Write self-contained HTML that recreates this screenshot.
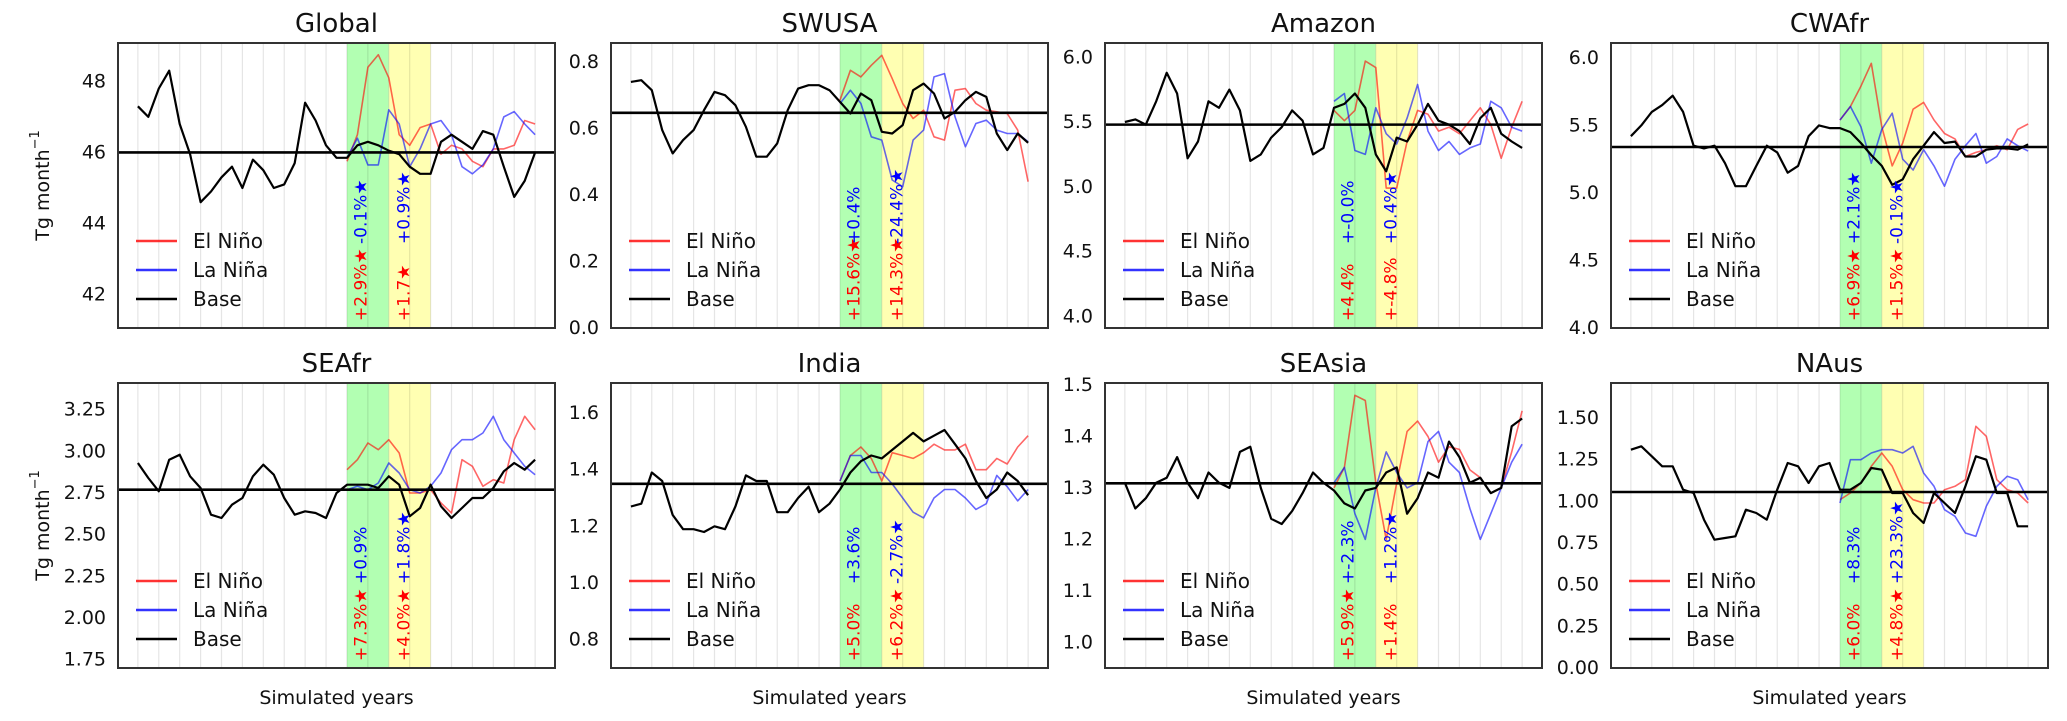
<!DOCTYPE html>
<html>
<head>
<meta charset="utf-8">
<style>
html,body{margin:0;padding:0;background:#fff;}
svg{display:block;font-family:"DejaVu Sans","Liberation Sans",sans-serif;}
</style>
</head>
<body>
<svg id="fig" width="2067" height="721" viewBox="0 0 2067 721" xmlns="http://www.w3.org/2000/svg"></svg>
<script>
// ---- data (values at half-year steps) ----
const baseYears = [0,0.5,1,1.5,2,2.5,3,3.5,4,4.5,5,5.5,6,6.5,7,7.5,8,8.5,9,9.5,10,10.5,11,11.5,12,12.5,13,13.5,14,14.5,15,15.5,16,16.5,17,17.5,18,18.5,19];
const ensoYears = [10,10.5,11,11.5,12,12.5,13,13.5,14,14.5,15,15.5,16,16.5,17,17.5,18,18.5,19];
const gridYears = [0,1,2,3,4,5,6,7,8,9,10,11,12,13,14,15,16,17,18,19];
const bandYears = [10,12,14];

const globalBase = [47.3,47.0,47.8,48.3,46.8,45.95,44.6,44.9,45.3,45.6,45.0,45.8,45.5,45.0,45.1,45.7,47.4,46.9,46.2,45.85,45.85,46.2,46.3,46.2,46.05,45.95,45.6,45.4,45.4,46.3,46.5,46.3,46.1,46.6,46.5,45.6,44.75,45.2,46.0];
const globalNino = [45.75,46.5,48.4,48.75,48.1,46.5,46.2,46.7,46.8,45.95,46.2,46.1,45.75,45.6,46.1,46.1,46.2,46.9,46.8];
const globalNina = [45.85,46.4,45.65,45.65,47.2,46.8,45.6,46.1,46.8,46.9,46.5,45.6,45.4,45.65,46.1,47.0,47.15,46.8,46.5];

const swusaBase = [0.74,0.745,0.715,0.595,0.525,0.565,0.595,0.655,0.71,0.70,0.67,0.605,0.515,0.515,0.555,0.655,0.72,0.73,0.73,0.715,0.68,0.645,0.705,0.685,0.59,0.585,0.61,0.715,0.735,0.705,0.63,0.65,0.685,0.71,0.695,0.585,0.535,0.585,0.557];
const swusaNino = [0.685,0.775,0.755,0.79,0.82,0.75,0.675,0.63,0.655,0.575,0.565,0.715,0.72,0.675,0.655,0.65,0.645,0.595,0.44];
const swusaNina = [0.675,0.715,0.675,0.575,0.565,0.445,0.425,0.565,0.595,0.755,0.765,0.635,0.545,0.615,0.625,0.595,0.585,0.585,0.56];

const amazonBase = [5.5,5.52,5.48,5.66,5.88,5.72,5.22,5.35,5.66,5.61,5.75,5.59,5.2,5.25,5.38,5.46,5.59,5.51,5.25,5.3,5.61,5.64,5.72,5.61,5.25,5.12,5.38,5.35,5.48,5.64,5.51,5.48,5.43,5.33,5.53,5.61,5.41,5.35,5.3];
const amazonNino = [5.59,5.51,5.59,5.97,5.92,4.99,4.99,5.35,5.59,5.56,5.43,5.46,5.41,5.51,5.61,5.48,5.22,5.46,5.66];
const amazonNina = [5.66,5.72,5.28,5.25,5.61,5.41,5.33,5.53,5.79,5.43,5.28,5.35,5.25,5.3,5.33,5.66,5.61,5.46,5.43];

const cwafrBase = [5.42,5.5,5.6,5.65,5.72,5.6,5.35,5.33,5.35,5.22,5.05,5.05,5.2,5.35,5.3,5.15,5.2,5.42,5.5,5.48,5.48,5.45,5.37,5.28,5.2,5.06,5.1,5.25,5.35,5.45,5.37,5.38,5.27,5.27,5.32,5.33,5.33,5.32,5.36];
const cwafrNino = [5.54,5.64,5.79,5.96,5.49,5.2,5.37,5.62,5.67,5.54,5.44,5.4,5.27,5.3,5.32,5.35,5.32,5.47,5.51];
const cwafrNina = [5.54,5.64,5.49,5.22,5.47,5.59,5.25,5.17,5.32,5.2,5.05,5.25,5.35,5.44,5.22,5.27,5.4,5.35,5.31];

const seafrBase = [2.93,2.84,2.76,2.95,2.98,2.85,2.78,2.62,2.6,2.68,2.72,2.85,2.92,2.86,2.72,2.62,2.64,2.63,2.6,2.75,2.8,2.8,2.8,2.78,2.85,2.8,2.61,2.66,2.8,2.67,2.6,2.66,2.72,2.72,2.78,2.88,2.93,2.89,2.95];
const seafrNino = [2.89,2.95,3.05,3.01,3.07,2.99,2.75,2.75,2.77,2.69,2.63,2.95,2.91,2.79,2.83,2.81,3.07,3.21,3.13];
const seafrNina = [2.77,2.79,2.77,2.81,2.93,2.87,2.77,2.75,2.79,2.87,3.01,3.07,3.07,3.11,3.21,3.07,2.99,2.91,2.86];

const indiaBase = [1.27,1.28,1.39,1.36,1.24,1.19,1.19,1.18,1.2,1.19,1.27,1.38,1.36,1.36,1.25,1.25,1.3,1.34,1.25,1.28,1.33,1.39,1.43,1.45,1.44,1.47,1.5,1.53,1.5,1.52,1.54,1.49,1.44,1.36,1.3,1.33,1.39,1.36,1.31];
const indiaNino = [1.36,1.45,1.48,1.44,1.36,1.46,1.45,1.44,1.46,1.49,1.47,1.47,1.49,1.4,1.4,1.44,1.42,1.48,1.52];
const indiaNina = [1.36,1.45,1.45,1.39,1.39,1.35,1.3,1.25,1.23,1.3,1.33,1.33,1.3,1.26,1.28,1.38,1.34,1.29,1.33];

const seasiaBase = [1.31,1.26,1.28,1.31,1.32,1.36,1.31,1.28,1.33,1.31,1.30,1.37,1.38,1.3,1.24,1.23,1.255,1.29,1.33,1.31,1.295,1.27,1.26,1.295,1.3,1.33,1.34,1.25,1.28,1.33,1.32,1.39,1.36,1.31,1.32,1.29,1.3,1.42,1.435];
const seasiaNino = [1.3,1.34,1.48,1.47,1.31,1.2,1.31,1.41,1.43,1.4,1.35,1.38,1.375,1.335,1.32,1.29,1.3,1.37,1.45];
const seasiaNina = [1.31,1.34,1.25,1.2,1.3,1.37,1.33,1.3,1.31,1.39,1.41,1.35,1.33,1.26,1.2,1.25,1.3,1.35,1.385];

const nausBase = [1.31,1.33,1.27,1.21,1.21,1.07,1.05,0.89,0.77,0.78,0.79,0.95,0.93,0.89,1.07,1.23,1.21,1.11,1.21,1.23,1.07,1.07,1.11,1.2,1.19,1.05,1.05,0.93,0.87,1.05,0.99,0.93,1.09,1.27,1.25,1.05,1.05,0.85,0.85];
const nausNino = [1.01,1.05,1.11,1.21,1.29,1.21,1.07,1.01,0.99,0.99,1.07,1.09,1.13,1.45,1.39,1.13,1.07,1.05,0.99];
const nausNina = [0.99,1.25,1.25,1.29,1.31,1.31,1.29,1.33,1.17,1.09,0.95,0.91,0.81,0.79,0.97,1.09,1.15,1.13,1.01];

const meanValues = [46.0,0.647,5.48,5.34,2.77,1.35,1.309,1.056];

const globalTicks = ['42','44','46','48'];
const swusaTicks = ['0.0','0.2','0.4','0.6','0.8'];
const amazonTicks = ['4.0','4.5','5.0','5.5','6.0'];
const cwafrTicks = ['4.0','4.5','5.0','5.5','6.0'];
const seafrTicks = ['1.75','2.00','2.25','2.50','2.75','3.00','3.25'];
const indiaTicks = ['0.8','1.0','1.2','1.4','1.6'];
const seasiaTicks = ['1.0','1.1','1.2','1.3','1.4','1.5'];
const nausTicks = ['0.00','0.25','0.50','0.75','1.00','1.25','1.50'];

const globalNotes = ['+2.9%\u2605','-0.1%\u2605','+1.7\u2605','+0.9%\u2605'];
const swusaNotes = ['+15.6%\u2605','+0.4%','+14.3%\u2605','-24.4%\u2605'];
const amazonNotes = ['+4.4%','+-0.0%','+-4.8%','+0.4%\u2605'];
const cwafrNotes = ['+6.9%\u2605','+2.1%\u2605','+1.5%\u2605','-0.1%\u2605'];
const seafrNotes = ['+7.3%\u2605','+0.9%','+4.0%\u2605','+1.8%\u2605'];
const indiaNotes = ['+5.0%','+3.6%','+6.2%\u2605','-2.7%\u2605'];
const seasiaNotes = ['+5.9%\u2605','+-2.3%','+1.4%','+1.2%\u2605'];
const nausNotes = ['+6.0%','+8.3%','+4.8%\u2605','+23.3%\u2605'];

// ---- layout ----
const panels = [
  {title:'Global', key:'global', left:118, top:43, ylim:[41.06,49.08], ticks:globalTicks, base:globalBase, nino:globalNino, nina:globalNina, notes:globalNotes, ylabel:true, xlabel:false},
  {title:'SWUSA', key:'swusa', left:611, top:43, ylim:[0.0,0.857], ticks:swusaTicks, base:swusaBase, nino:swusaNino, nina:swusaNina, notes:swusaNotes},
  {title:'Amazon', key:'amazon', left:1105, top:43, ylim:[3.91,6.11], ticks:amazonTicks, base:amazonBase, nino:amazonNino, nina:amazonNina, notes:amazonNotes},
  {title:'CWAfr', key:'cwafr', left:1611, top:43, ylim:[4.0,6.11], ticks:cwafrTicks, base:cwafrBase, nino:cwafrNino, nina:cwafrNina, notes:cwafrNotes},
  {title:'SEAfr', key:'seafr', left:118, top:383, ylim:[1.70,3.41], ticks:seafrTicks, base:seafrBase, nino:seafrNino, nina:seafrNina, notes:seafrNotes, ylabel:true, xlabel:true},
  {title:'India', key:'india', left:611, top:383, ylim:[0.70,1.706], ticks:indiaTicks, base:indiaBase, nino:indiaNino, nina:indiaNina, notes:indiaNotes, xlabel:true},
  {title:'SEAsia', key:'seasia', left:1105, top:383, ylim:[0.95,1.504], ticks:seasiaTicks, base:seasiaBase, nino:seasiaNino, nina:seasiaNina, notes:seasiaNotes, xlabel:true},
  {title:'NAus', key:'naus', left:1611, top:383, ylim:[0.0,1.71], ticks:nausTicks, base:nausBase, nino:nausNino, nina:nausNina, notes:nausNotes, xlabel:true}
];
const PW = 437, PH = 285;
const XMIN = -0.95, XMAX = 19.95;
const NS = 'http://www.w3.org/2000/svg';
const svg = document.getElementById('fig');

function mk(tag, attrs, parent){
  const e = document.createElementNS(NS, tag);
  for (const k in attrs) e.setAttribute(k, attrs[k]);
  (parent||svg).appendChild(e);
  return e;
}

panels.forEach((p, pi) => {
  const g = mk('g', {});
  
  
  const xs = v => p.left + (v - XMIN) / (XMAX - XMIN) * PW;
  const ys = v => p.top + PH - (v - p.ylim[0]) / (p.ylim[1] - p.ylim[0]) * PH;
  const bottom = p.top + PH;

  const green = mk('rect', {x:xs(bandYears[0]), y:p.top, width:xs(bandYears[1])-xs(bandYears[0]), height:PH, fill:'#b2ffb2'}, g);
  
  
  const yellow = mk('rect', {x:xs(bandYears[1]), y:p.top, width:xs(bandYears[2])-xs(bandYears[1]), height:PH, fill:'#ffffb2'}, g);
  
  

  gridYears.forEach(yr => {
    const l = mk('line', {x1:xs(yr), x2:xs(yr), y1:p.top, y2:bottom, stroke:'#000', 'stroke-opacity':0.1, 'stroke-width':1.2}, g);
    
    
  });

  const path = (years, vals) => years.map((yr,i) => (i?'L':'M') + xs(yr).toFixed(1) + ',' + ys(vals[i]).toFixed(1)).join(' ');
  const nino = mk('path', {d:path(ensoYears, p.nino), fill:'none', stroke:'#ff0000', 'stroke-opacity':0.6, 'stroke-width':1.6, 'stroke-linejoin':'round'}, g);
  
  
  const nina = mk('path', {d:path(ensoYears, p.nina), fill:'none', stroke:'#0000ff', 'stroke-opacity':0.6, 'stroke-width':1.6, 'stroke-linejoin':'round'}, g);
  
  
  const base = mk('path', {d:path(baseYears, p.base), fill:'none', stroke:'#000', 'stroke-width':2.2, 'stroke-linejoin':'round'}, g);
  
  
  const mean = mk('line', {x1:p.left, x2:p.left+PW, y1:ys(meanValues[pi]), y2:ys(meanValues[pi]), stroke:'#000', 'stroke-width':2.6}, g);
  
  

  const noteX = [10.7, 12.75];
  const noteSpec = [[0,0,bottom-7,'#ff0000'],[1,0,bottom-84,'#0000ff'],[2,1,bottom-7,'#ff0000'],[3,1,bottom-84,'#0000ff']];
  noteSpec.forEach(s => {
    const t = mk('text', {transform:'translate(' + xs(noteX[s[1]]).toFixed(1) + ',' + s[2] + ') rotate(-90)', 'font-size':17, fill:s[3], 'dominant-baseline':'central', 'text-anchor':'start'}, g);
    t.textContent = p.notes[s[0]];
    
    
  });

  const legItems = [['El Niño','#ff0000'],['La Niña','#0000ff'],['Base','#000']];
  legItems.forEach((it, i) => {
    const ly = p.top + 198 + i*29;
    const ll = mk('line', {x1:p.left+18, x2:p.left+59, y1:ly, y2:ly, stroke:it[1], 'stroke-width':2.4, 'stroke-opacity': i<2 ? 0.8 : 1}, g);
    
    
    const lt = mk('text', {x:p.left+75, y:ly, 'font-size':20, fill:'#111', 'dominant-baseline':'central'}, g);
    lt.textContent = it[0];
    
    
  });

  p.ticks.forEach(tk => {
    const t = mk('text', {x:p.left-12, y:ys(parseFloat(tk)), 'font-size':19, fill:'#111', 'text-anchor':'end', 'dominant-baseline':'central'}, g);
    t.textContent = tk;
    
    
  });

  const fr = mk('rect', {x:p.left, y:p.top, width:PW, height:PH, fill:'none', stroke:'#333', 'stroke-width':2}, g);
  
  

  const ti = mk('text', {x:p.left+PW/2, y:p.top-11, 'font-size':26, fill:'#111', 'text-anchor':'middle'}, g);
  ti.textContent = p.title;
  
  

  if (p.ylabel) {
    const yl = mk('text', {transform:'translate(43,' + (p.top+PH/2) + ') rotate(-90)', 'font-size':19, fill:'#111', 'text-anchor':'middle', 'dominant-baseline':'central'}, g);
    yl.appendChild(document.createTextNode('Tg month'));
    const sup = mk('tspan', {dy:-8, 'font-size':13}, yl);
    sup.textContent = '\u22121';
    
    
  }
  if (p.xlabel) {
    const xl = mk('text', {x:p.left+PW/2, y:698, 'font-size':19, fill:'#111', 'text-anchor':'middle', 'dominant-baseline':'central'}, g);
    xl.textContent = 'Simulated years';
    
    
  }
});
</script>
</body>
</html>
